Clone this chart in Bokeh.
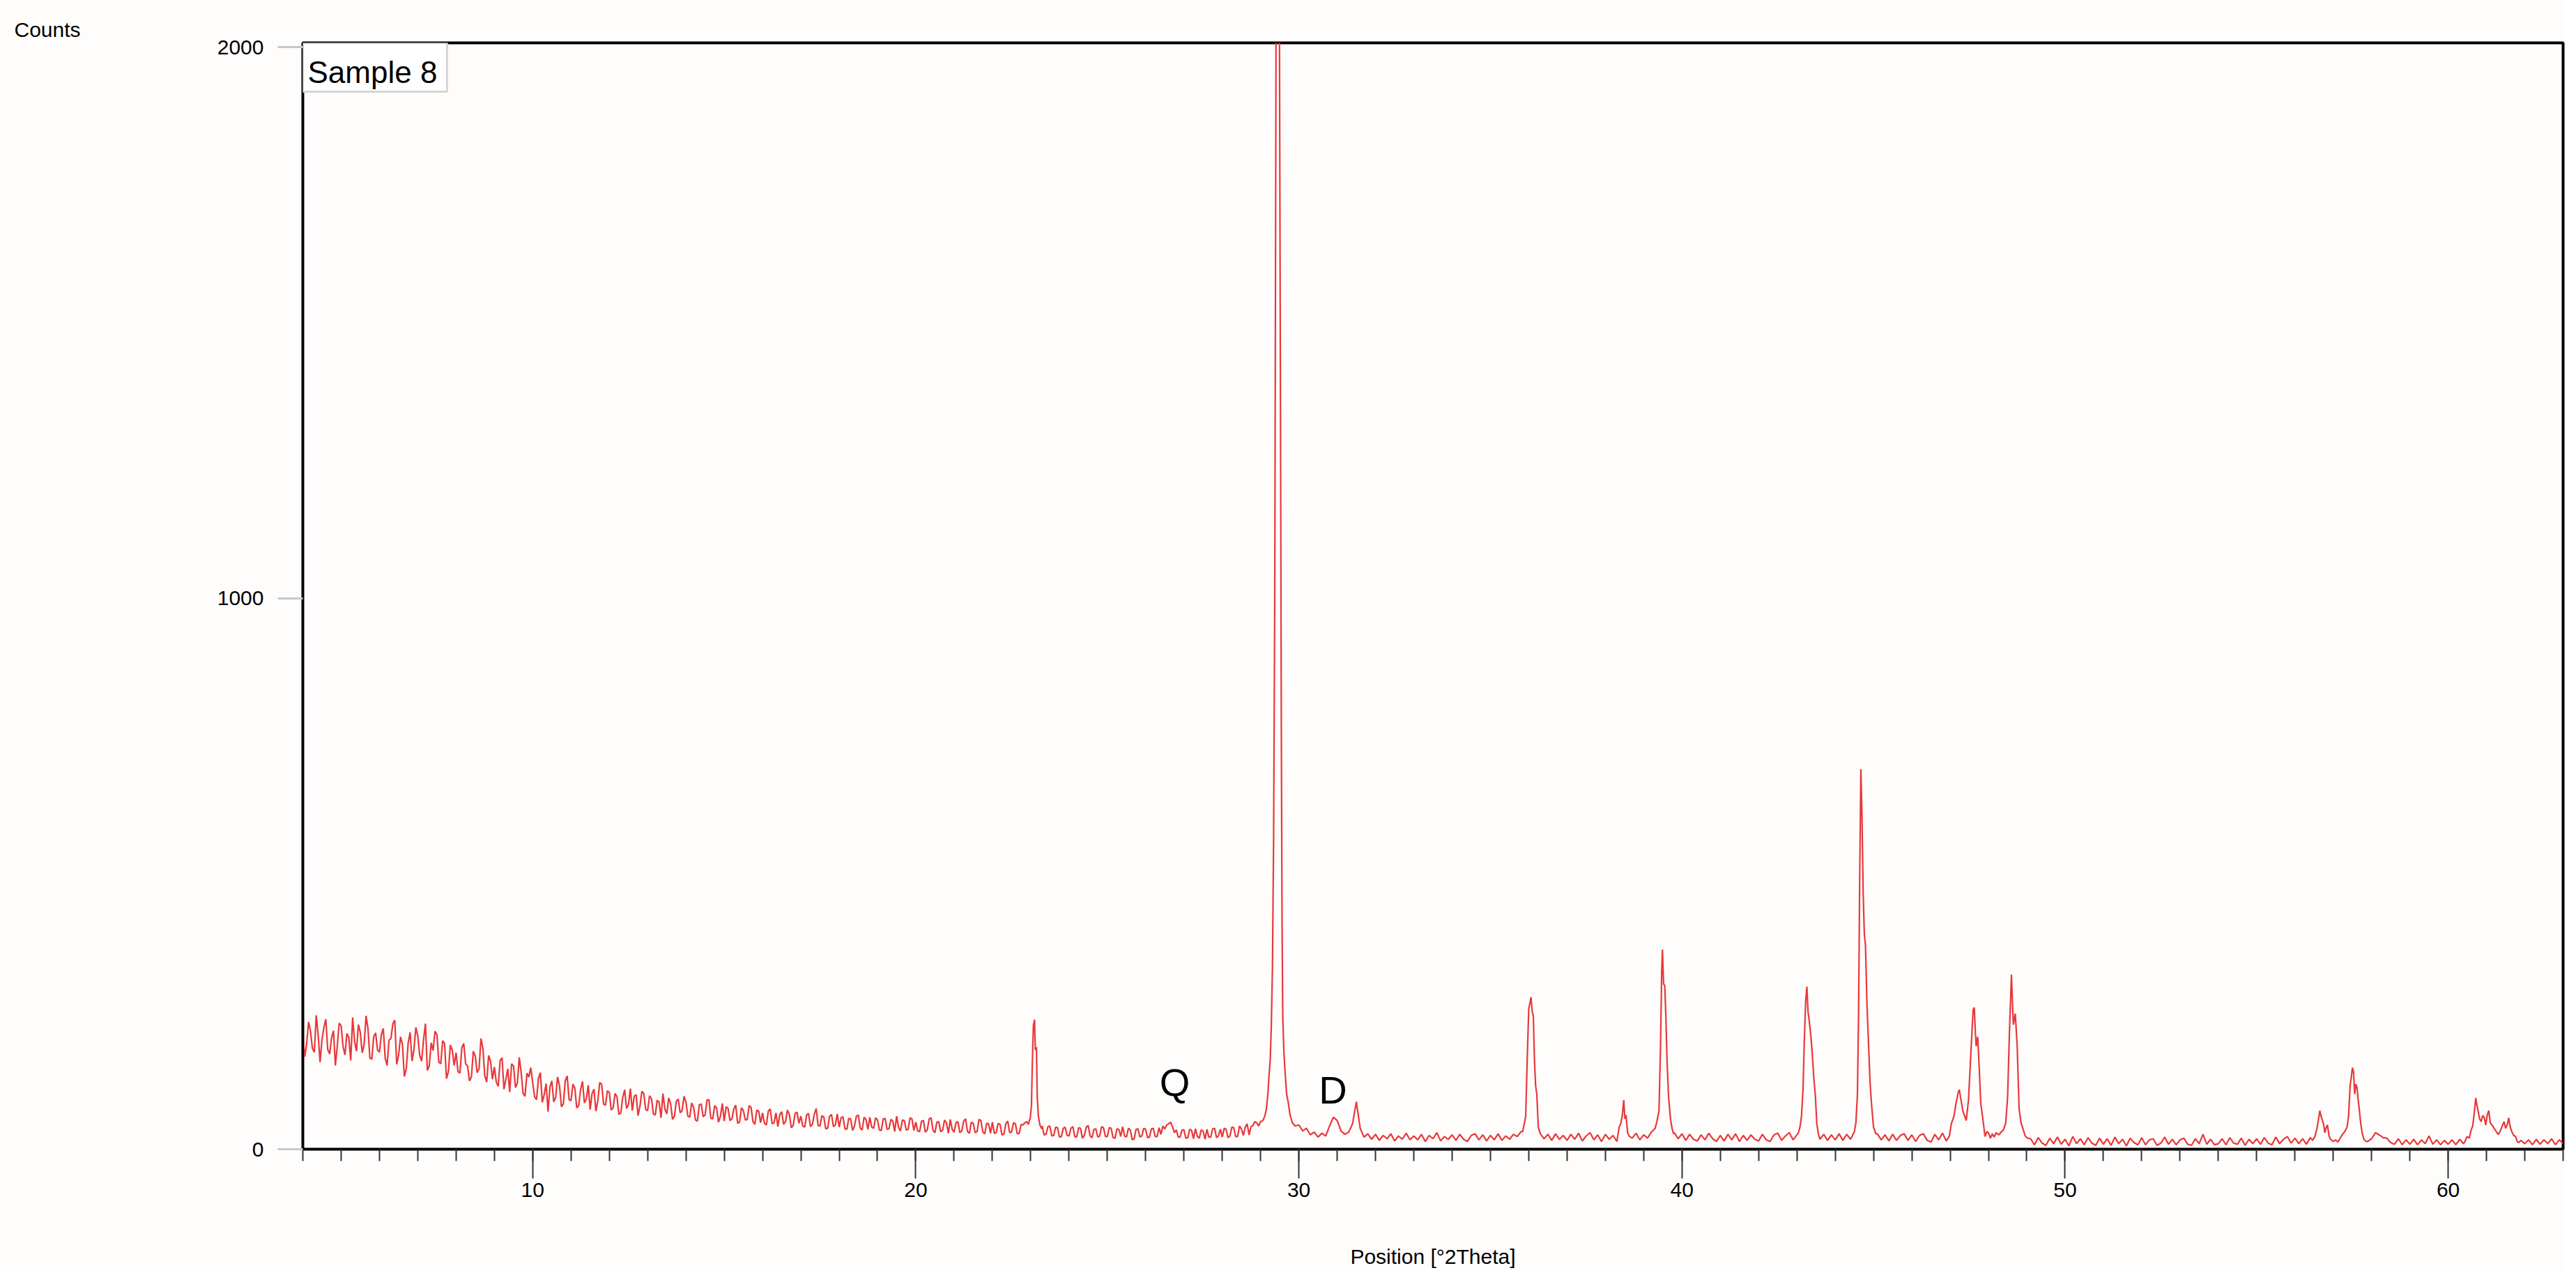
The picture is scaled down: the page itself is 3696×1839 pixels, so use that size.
import numpy as np
from bokeh.plotting import figure
from bokeh.models import ColumnDataSource, Label, SingleIntervalTicker, FixedTicker, Range1d
from bokeh.embed import file_html
from bokeh.resources import INLINE

# ---------------- data ----------------
# background readings, 4.00 .. 28.95 °2Theta every 0.05
BG_LOW_START = 4.0
BG_LOW_STEP = 0.05
bg_low_counts = [
    205, 168, 192, 231, 214, 183, 176, 243, 207, 158, 199, 221, 236, 181, 173, 202, 215, 152, 188, 229,  # 4
    224, 186, 171, 210, 203, 161, 239, 196, 178, 226, 212, 175, 190, 242, 219, 166, 163, 204, 211, 180,  # 5
    176, 208, 219, 165, 152, 198, 201, 228, 234, 154, 171, 204, 190, 132, 146, 193, 212, 160, 181, 221,  # 6
    206, 171, 160, 198, 228, 143, 151, 193, 179, 214, 208, 158, 155, 197, 192, 128, 141, 189, 180, 152,  # 7
    175, 141, 138, 184, 192, 155, 151, 124, 131, 178, 169, 139, 146, 201, 183, 133, 122, 170, 160, 127,  # 8
    149, 122, 114, 161, 166, 109, 127, 146, 104, 155, 151, 112, 120, 167, 139, 101, 96, 138, 131, 148,   # 9
    121, 95, 90, 128, 139, 85, 99, 119, 68, 113, 124, 86, 94, 131, 115, 77, 82, 124, 133, 90,           # 10
    88, 118, 111, 75, 79, 108, 123, 84, 91, 116, 72, 101, 109, 69, 88, 121, 118, 82, 80, 106,           # 11
    103, 71, 75, 101, 95, 63, 66, 94, 108, 74, 81, 110, 70, 96, 99, 61, 78, 105, 101, 72,               # 12
    70, 97, 92, 64, 62, 89, 85, 57, 101, 73, 64, 93, 83, 54, 60, 87, 91, 66, 70, 96,                    # 13
    86, 60, 58, 84, 76, 53, 51, 81, 82, 59, 62, 89, 90, 56, 55, 79, 75, 49, 60, 83,                     # 14
    51, 77, 74, 52, 55, 73, 80, 47, 49, 75, 70, 53, 54, 79, 76, 50, 45, 71, 69, 48,                     # 15
    66, 47, 44, 69, 73, 46, 48, 66, 41, 63, 68, 45, 50, 71, 63, 39, 43, 65, 67, 47,                     # 16
    60, 42, 40, 62, 65, 41, 45, 63, 74, 43, 42, 61, 58, 37, 38, 60, 63, 41, 44, 64,                     # 17
    40, 57, 59, 37, 36, 56, 55, 34, 42, 60, 62, 38, 35, 58, 54, 36, 58, 40, 38, 57,                     # 18
    53, 35, 34, 55, 56, 36, 37, 54, 51, 32, 60, 40, 33, 53, 52, 35, 36, 57, 55, 34,                     # 19
    49, 33, 32, 51, 52, 31, 35, 55, 57, 34, 30, 49, 50, 32, 34, 53, 48, 29, 54, 36,                     # 20
    31, 48, 50, 30, 33, 51, 55, 32, 29, 49, 47, 30, 32, 54, 52, 31, 28, 47, 46, 29,                     # 21
    49, 29, 30, 47, 45, 26, 27, 46, 51, 30, 31, 48, 46, 28, 29, 45, 44, 48, 50, 46,                     # 22
    60, 120, 230, 200, 50, 47, 42, 26, 27, 41, 42, 24, 25, 40, 39, 22, 23, 38, 40, 25,                  # 23
    24, 38, 41, 23, 22, 39, 38, 20, 25, 40, 43, 24, 21, 36, 37, 22, 24, 41, 39, 23,                     # 24
    23, 39, 38, 21, 20, 37, 36, 23, 41, 24, 22, 38, 35, 17, 19, 36, 37, 22, 24, 38,                     # 25
    36, 21, 22, 37, 38, 23, 23, 39, 27, 42, 37, 44, 46, 49, 41, 30, 35, 22, 22, 35,                     # 26
    35, 20, 21, 36, 34, 19, 37, 23, 20, 35, 33, 18, 36, 22, 22, 37, 38, 21, 24, 36,                     # 27
    22, 38, 36, 21, 24, 40, 39, 23, 23, 42, 37, 25, 40, 46, 26, 41, 43, 50, 48, 42,                     # 28
]

# background readings, 29.0 .. 63.0 °2Theta every 0.1
BG_HIGH_START = 29.0
BG_HIGH_STEP = 0.1
bg_high_counts = [
    50, 65, 130, 330, 1900, 1337, 238, 90, 55, 44,      # 29
    44, 33, 38, 26, 31, 22, 29, 24, 42, 58,             # 30
    52, 33, 27, 31, 46, 86, 38, 22, 28, 18,             # 31
    27, 16, 25, 19, 28, 15, 24, 18, 29, 17,             # 32
    24, 17, 27, 14, 25, 19, 30, 15, 23, 18,             # 33
    26, 16, 27, 18, 14, 25, 28, 17, 26, 15,             # 34
    25, 17, 28, 16, 24, 18, 27, 23, 32, 50,             # 35
    255, 242, 100, 30, 19, 27, 16, 28, 18, 25,          # 36
    16, 27, 18, 29, 15, 24, 30, 17, 26, 14,             # 37
    27, 18, 25, 14, 46, 89, 30, 20, 29, 17,             # 38
    26, 20, 31, 38, 70, 297, 160, 55, 30, 19,           # 39
    28, 16, 27, 18, 15, 26, 17, 29, 19, 14,             # 40
    25, 15, 27, 17, 28, 14, 25, 16, 26, 18,             # 41
    15, 27, 17, 14, 26, 29, 16, 24, 30, 17,             # 42
    26, 40, 295, 175, 46, 25, 18, 27, 16, 26,           # 43
    17, 28, 16, 27, 18, 32, 690, 370, 120, 40,          # 44
    40, 28, 17, 26, 15, 27, 16, 25, 28, 16,             # 45
    26, 14, 25, 28, 16, 13, 27, 17, 29, 15,             # 46
    46, 82, 95, 60, 52, 187, 253, 204, 82, 32,          # 47
    30, 28, 30, 31, 35, 95, 317, 187, 48, 24,           # 48
    20, 19, 8, 21, 11, 7, 20, 10, 22, 9,                # 49
    18, 6, 23, 10, 19, 8, 21, 11, 7, 20,                # 50
    9, 19, 7, 22, 10, 18, 6, 20, 12, 8,                 # 51
    21, 8, 17, 19, 7, 11, 22, 9, 18, 8,                 # 52
    17, 20, 9, 7, 19, 10, 27, 9, 18, 8,                 # 53
    10, 19, 8, 21, 11, 9, 20, 7, 18, 10,                # 54
    19, 9, 21, 11, 8, 22, 10, 18, 23, 11,               # 55
    20, 10, 19, 9, 21, 23, 60, 44, 19, 14,              # 56
    14, 13, 27, 40, 60, 148, 112, 45, 18, 14,           # 57
    19, 30, 26, 21, 20, 12, 9, 19, 8, 17,               # 58
    9, 18, 8, 17, 10, 24, 9, 17, 8, 16,                 # 59
    9, 17, 8, 18, 10, 20, 35, 93, 61, 44,               # 60
    62, 48, 36, 27, 42, 38, 57, 25, 14, 16,             # 61
    10, 17, 8, 18, 9, 17, 10, 19, 8, 17,                # 62
    10,                                                  # 63.0
]

# finer readings across the reflections
peak_23_pos = [22.94, 22.99, 23.02, 23.04, 23.07, 23.10, 23.12, 23.15, 23.17, 23.20, 23.24, 23.29]
peak_23_counts = [45, 58, 80, 150, 225, 235, 180, 185, 95, 60, 44, 37]

peak_29_pos = [29.06, 29.11, 29.15, 29.19, 29.22, 29.25, 29.28, 29.31, 29.34, 29.37, 29.40,
               29.43, 29.45, 29.47, 29.49, 29.52, 29.54, 29.56, 29.58, 29.61, 29.64, 29.68,
               29.72, 29.77, 29.83, 29.90]
peak_29_counts = [52, 60, 72, 100, 133, 160, 222, 330, 560, 1000, 1900,
                  3200, 3400, 2900, 2100, 1337, 800, 420, 238, 175, 140, 100,
                  86, 62, 48, 42]

peak_36_pos = [35.84, 35.88, 35.92, 35.96, 36.00, 36.03, 36.06, 36.09, 36.12, 36.15, 36.18, 36.21, 36.25, 36.30]
peak_36_counts = [32, 45, 60, 162, 255, 265, 276, 250, 242, 160, 115, 100, 40, 28]

peak_38_pos = [38.36, 38.40, 38.44, 38.48, 38.51, 38.54, 38.58, 38.62]
peak_38_counts = [40, 46, 60, 89, 55, 62, 30, 24]

peak_39_pos = [39.30, 39.35, 39.40, 39.44, 39.47, 39.49, 39.52, 39.55, 39.58, 39.61, 39.65, 39.70, 39.74, 39.78]
peak_39_counts = [38, 52, 70, 187, 320, 362, 300, 297, 240, 160, 95, 55, 38, 28]

peak_43_pos = [43.04, 43.08, 43.12, 43.16, 43.19, 43.23, 43.26, 43.29, 43.32, 43.36, 43.40, 43.44, 43.48, 43.52, 43.56]
peak_43_counts = [30, 40, 60, 110, 190, 270, 295, 250, 234, 209, 175, 130, 99, 46, 28]

peak_44_pos = [44.50, 44.54, 44.58, 44.61, 44.64, 44.67, 44.70, 44.73, 44.76, 44.79, 44.83, 44.87, 44.91, 44.95, 45.00, 45.06]
peak_44_counts = [32, 48, 100, 250, 500, 690, 600, 465, 390, 370, 260, 190, 120, 80, 40, 28]

peak_47_pos = [46.98, 47.03, 47.10, 47.15, 47.21, 47.24, 47.27, 47.33, 47.38, 47.42, 47.48, 47.55,
               47.60, 47.63, 47.66, 47.68, 47.72, 47.76, 47.80, 47.85, 47.91, 47.96, 48.00, 48.05,
               48.10, 48.15, 48.20, 48.27, 48.33, 48.39, 48.45, 48.50, 48.55, 48.60, 48.63, 48.65,
               48.70, 48.75, 48.80, 48.85, 48.91, 48.96, 49.02]
peak_47_counts = [24, 46, 60, 82, 103, 108, 95, 70, 60, 52, 90, 187,
                  253, 257, 210, 187, 204, 146, 82, 57, 23, 32, 30, 20,
                  28, 22, 30, 26, 31, 35, 47, 95, 217, 317, 260, 226,
                  246, 187, 73, 48, 35, 24, 20]

peak_57_pos = [56.46, 56.52, 56.57, 56.61, 56.65, 56.69, 56.72, 56.75, 56.78, 56.82, 56.85, 56.89,
               56.93, 57.00, 57.06, 57.12, 57.18, 57.24, 57.30, 57.36, 57.40, 57.44, 57.47, 57.50,
               57.53, 57.56, 57.59, 57.62, 57.65, 57.68, 57.72, 57.76, 57.80, 57.86]
peak_57_counts = [16, 23, 36, 52, 70, 58, 52, 44, 30, 40, 44, 24,
                  18, 14, 17, 13, 20, 27, 32, 40, 60, 115, 130, 148,
                  140, 100, 118, 112, 90, 72, 45, 28, 18, 14]

peak_61_pos = [60.44, 60.49, 60.55, 60.60, 60.64, 60.68, 60.72, 60.75, 60.78, 60.82, 60.86, 60.90,
               60.94, 60.98, 61.02, 61.06, 61.10, 61.14, 61.18, 61.22, 61.27, 61.31, 61.36, 61.41,
               61.46, 61.50, 61.54, 61.58, 61.62, 61.66, 61.71, 61.76, 61.80, 61.84]
peak_61_counts = [14, 23, 20, 35, 42, 65, 93, 80, 70, 55, 50, 61,
                  58, 44, 62, 70, 48, 44, 40, 36, 30, 27, 33, 42,
                  50, 38, 44, 57, 40, 32, 25, 23, 14, 12]

x_ticks_interval = 10
y_tick_values = [0, 1000, 2000]
x_start, x_end = 4.0, 63.0
y_start, y_end = 0, 2008

sample_name = "Sample 8"
annotations = [("Q", 26.76, 122), ("D", 30.89, 108)]

# ---------------- assemble the pattern ----------------
peaks = [
    (peak_23_pos, peak_23_counts), (peak_29_pos, peak_29_counts),
    (peak_36_pos, peak_36_counts), (peak_38_pos, peak_38_counts),
    (peak_39_pos, peak_39_counts), (peak_43_pos, peak_43_counts),
    (peak_44_pos, peak_44_counts), (peak_47_pos, peak_47_counts),
    (peak_57_pos, peak_57_counts), (peak_61_pos, peak_61_counts),
]
bg_pos = [round(BG_LOW_START + i * BG_LOW_STEP, 3) for i in range(len(bg_low_counts))]
bg_pos += [round(BG_HIGH_START + i * BG_HIGH_STEP, 3) for i in range(len(bg_high_counts))]
bg_counts = bg_low_counts + bg_high_counts

xs, ys = [], []
for x, y in zip(bg_pos, bg_counts):
    if any(pp[0] <= x <= pp[-1] for pp, _ in peaks):
        continue
    xs.append(x)
    ys.append(y)
for pp, cc in peaks:
    xs.extend(pp)
    ys.extend(cc)
order = np.argsort(xs, kind="stable")
src = ColumnDataSource(dict(pos=np.array(xs)[order], counts=np.array(ys)[order]))

# ---------------- figure ----------------
FONT = "Liberation Sans"
BG = "#fffdfc"

p = figure(width=3680, height=1823,
           x_range=Range1d(x_start, x_end), y_range=Range1d(y_start, y_end),
           output_backend="svg", toolbar_location=None,
           min_border_left=434, min_border_right=3,
           min_border_top=61, min_border_bottom=175)
p.background_fill_color = BG
p.border_fill_color = BG
p.outline_line_color = "black"
p.outline_line_width = 4
p.xgrid.visible = False
p.ygrid.visible = False

# "Counts" caption in the top-left corner
p.title.text = "Counts"
p.title.align = "left"
p.title.offset = -414
p.title.standoff = 5
p.title.text_font = FONT
p.title.text_font_size = "30px"
p.title.text_font_style = "normal"
p.title.text_color = "black"

p.line("pos", "counts", source=src, line_color="#e8383a", line_width=2.2)

xa = p.xaxis[0]
xa.ticker = SingleIntervalTicker(interval=x_ticks_interval, num_minor_ticks=10)
xa.axis_line_color = "black"
xa.axis_line_width = 3
xa.major_tick_out = 42
xa.major_tick_in = 0
xa.minor_tick_out = 17
xa.minor_tick_in = 0
xa.major_tick_line_color = "#333333"
xa.major_tick_line_width = 2
xa.minor_tick_line_color = "#333333"
xa.minor_tick_line_width = 2
xa.major_label_text_font = FONT
xa.major_label_text_font_size = "30px"
xa.major_label_text_color = "black"
xa.major_label_standoff = 6
xa.axis_label = "Position [°2Theta]"
xa.axis_label_text_font = FONT
xa.axis_label_text_font_size = "30px"
xa.axis_label_text_font_style = "normal"
xa.axis_label_text_color = "black"
xa.axis_label_standoff = 66

ya = p.yaxis[0]
ya.ticker = FixedTicker(ticks=y_tick_values, minor_ticks=[])
ya.axis_line_color = "black"
ya.axis_line_width = 3
ya.major_tick_out = 36
ya.major_tick_in = 0
ya.minor_tick_out = 0
ya.minor_tick_in = 0
ya.major_tick_line_color = "#c8c8c8"
ya.major_tick_line_width = 3
ya.major_label_text_font = FONT
ya.major_label_text_font_size = "30px"
ya.major_label_text_color = "black"
ya.major_label_standoff = 20

p.add_layout(Label(x=x_start, y=y_end, text=sample_name,
                   text_font=FONT, text_font_size="44px", text_color="black",
                   text_align="left", text_baseline="top",
                   background_fill_color="white", border_line_color="#d4d4d4",
                   border_line_width=3, padding=(7, 14, 17, 4)))

for txt, ax, ay in annotations:
    p.add_layout(Label(x=ax, y=ay, text=txt, text_font=FONT, text_font_size="56px",
                       text_color="black", text_align="center", text_baseline="alphabetic"))

open("out.html", "w").write(file_html(p, INLINE))
